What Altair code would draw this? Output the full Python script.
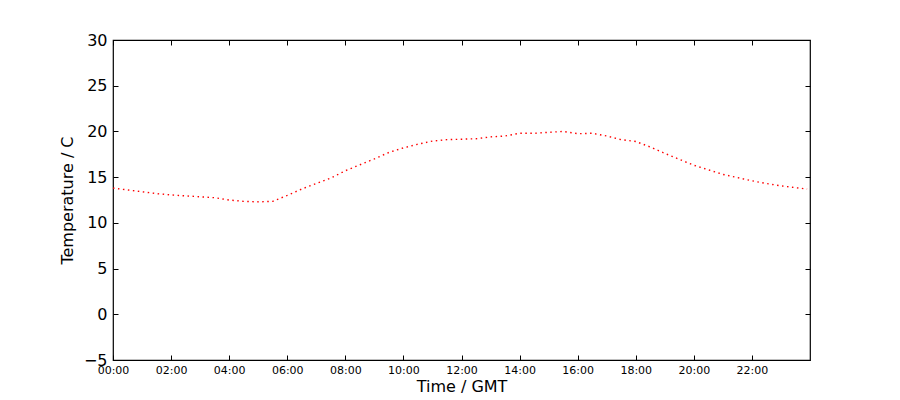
import altair as alt
import pandas as pd

hours = [0.0, 0.5, 1.0, 1.5, 2.0, 2.5, 3.0, 3.5, 4.0, 4.5, 5.0, 5.5,
         6.0, 6.5, 7.0, 7.5, 8.0, 8.5, 9.0, 9.5, 10.0, 10.5, 11.0, 11.5,
         12.0, 12.5, 13.0, 13.5, 14.0, 14.5, 15.0, 15.5, 16.0, 16.5, 17.0, 17.5,
         18.0, 18.5, 19.0, 19.5, 20.0, 20.5, 21.0, 21.5, 22.0, 22.5, 23.0, 23.5, 23.9]
temps = [13.8, 13.6, 13.4, 13.2, 13.05, 12.95, 12.85, 12.75, 12.5, 12.35, 12.3, 12.35,
         13.0, 13.7, 14.3, 14.9, 15.7, 16.35, 17.0, 17.7, 18.2, 18.6, 18.95, 19.1,
         19.15, 19.2, 19.4, 19.5, 19.8, 19.8, 19.9, 20.0, 19.75, 19.8, 19.5, 19.1,
         18.9, 18.3, 17.6, 16.95, 16.3, 15.8, 15.3, 14.95, 14.6, 14.3, 14.05, 13.85, 13.7]
x_ticks = [0, 2, 4, 6, 8, 10, 12, 14, 16, 18, 20, 22]
y_ticks = [-5, 0, 5, 10, 15, 20, 25, 30]

df = pd.DataFrame({"hour": hours, "temp": temps})

label_expr = "(datum.value < 10 ? '0' : '') + datum.value + ':00'"
FONT = "DejaVu Sans"

xscale = alt.Scale(domain=[0, 24], nice=False, zero=False)
yscale = alt.Scale(domain=[-5, 30], nice=False, zero=False)

line = alt.Chart(df).mark_line(
    color="red", strokeWidth=1.4, strokeDash=[1.5, 3.5]
).encode(
    x=alt.X("hour:Q", scale=xscale,
            axis=alt.Axis(orient="bottom", values=x_ticks, labelExpr=label_expr,
                          title="Time / GMT", titleFontSize=16, titleFont=FONT,
                          titleFontWeight="normal", titleColor="black", titlePadding=3,
                          labelFontSize=11, labelFont=FONT, labelColor="black",
                          labelPadding=4, tickSize=5, offset=-5, domain=False,
                          tickColor="black", grid=False, labelFlush=False)),
    y=alt.Y("temp:Q", scale=yscale,
            axis=alt.Axis(orient="left", values=y_ticks,
                          title="Temperature / C", titleFontSize=16, titleFont=FONT,
                          titleFontWeight="normal", titleColor="black", titlePadding=8,
                          labelFontSize=16, labelFont=FONT, labelColor="black",
                          labelPadding=6, tickSize=5, offset=-5, domain=False,
                          tickColor="black", grid=False, labelFlush=False)),
)

ticks = alt.Chart(df).mark_line(opacity=0).encode(
    x=alt.X("hour:Q", scale=xscale,
            axis=alt.Axis(orient="top", values=x_ticks, labels=False, title=None,
                          tickSize=5, offset=-5, domain=False, tickColor="black",
                          grid=False)),
    y=alt.Y("temp:Q", scale=yscale,
            axis=alt.Axis(orient="right", values=y_ticks, labels=False, title=None,
                          tickSize=5, offset=-5, domain=False, tickColor="black",
                          grid=False)),
)

chart = alt.layer(line, ticks).resolve_axis(x="independent", y="independent").properties(
    width=697, height=320,
    autosize=alt.AutoSizeParams(type="none"),
    padding={"left": 105, "top": 32, "right": 70, "bottom": 36},
).configure(background="white").configure_view(stroke="black", strokeWidth=1.2)

chart.save("out.html", embed_options={"renderer": "svg", "actions": False})
